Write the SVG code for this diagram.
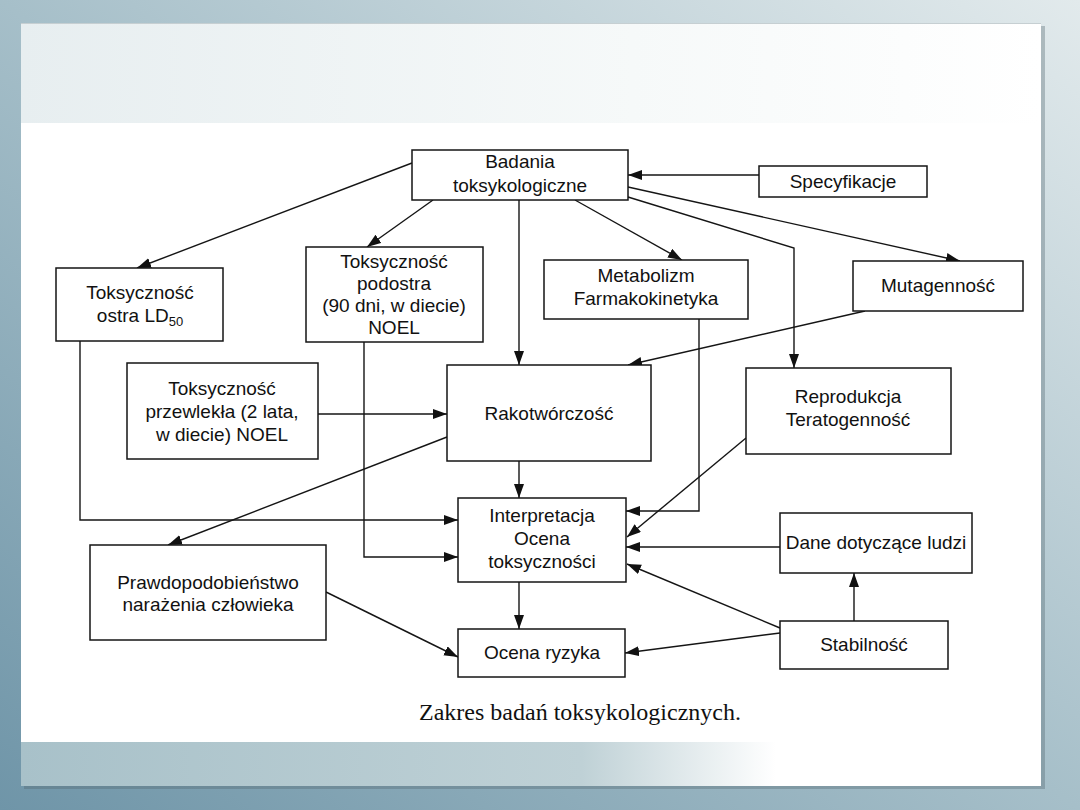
<svg xmlns="http://www.w3.org/2000/svg" width="1080" height="810" viewBox="0 0 1080 810">
<defs>
<linearGradient id="bg" x1="0" y1="1" x2="1" y2="0">
<stop offset="0" stop-color="#6f95a8"/>
<stop offset="0.5" stop-color="#a6bfc9"/>
<stop offset="1" stop-color="#e2eaec"/>
</linearGradient>
<linearGradient id="topband" x1="0" y1="0" x2="1" y2="0">
<stop offset="0" stop-color="#e7eef0"/>
<stop offset="0.6" stop-color="#f6f9f9"/>
<stop offset="1" stop-color="#ffffff"/>
</linearGradient>
<linearGradient id="botband" x1="0" y1="0" x2="1" y2="0">
<stop offset="0" stop-color="#a8c1c9"/>
<stop offset="0.55" stop-color="#bfd1d6"/>
<stop offset="0.74" stop-color="#ffffff"/>
<stop offset="1" stop-color="#ffffff"/>
</linearGradient>
<marker id="ah" markerUnits="userSpaceOnUse" markerWidth="15" markerHeight="11" refX="14" refY="5" orient="auto">
<path d="M0,0 L14,5 L0,10 z" fill="#111"/>
</marker>
<style>
.box{fill:#fff;stroke:#151515;stroke-width:1.5}
.t{font-family:"Liberation Sans",Arial,sans-serif;font-size:19px;fill:#111;text-anchor:middle}
.c{fill:none;stroke:#151515;stroke-width:1.4}
.a{marker-end:url(#ah)}
</style>
</defs>
<rect x="0" y="0" width="1080" height="810" fill="url(#bg)"/>
<rect x="24" y="26" width="1021" height="763" fill="#51646c" opacity="0.35"/>
<rect x="21" y="23" width="1020" height="100" fill="url(#topband)"/>
<line x1="21" y1="23.5" x2="1041" y2="23.5" stroke="#c6cfd2" stroke-width="1"/>
<rect x="21" y="123" width="1020" height="619" fill="#ffffff"/>
<rect x="21" y="742" width="1020" height="44" fill="url(#botband)"/>

<g id="connectors">
<path class="c a" d="M412,163 L137,268"/>
<path class="c a" d="M433,200 L367,247"/>
<path class="c a" d="M519,200 L519,365"/>
<path class="c a" d="M575,200 L682,260"/>
<path class="c a" d="M628,197 L794,248 L794,368"/>
<path class="c a" d="M628,187 L960,261"/>
<path class="c a" d="M759,175 L628,175"/>
<path class="c a" d="M865,311 L628,365"/>
<path class="c a" d="M80,341 L80,520 L458,520"/>
<path class="c a" d="M364,342 L364,557 L458,557"/>
<path class="c a" d="M318,414 L447,414"/>
<path class="c a" d="M447,437 L168,545"/>
<path class="c a" d="M519,461 L519,498"/>
<path class="c a" d="M699,319 L699,511 L626,511"/>
<path class="c a" d="M746,438 L627,537"/>
<path class="c a" d="M780,547 L626,547"/>
<path class="c a" d="M780,628 L627,564"/>
<path class="c a" d="M854,621 L854,573"/>
<path class="c a" d="M780,633 L625,653"/>
<path class="c a" d="M519,582 L519,629"/>
<path class="c a" d="M326,592 L458,657"/>
</g>

<g id="badania"><rect class="box" x="412" y="150" width="216" height="50"/><text class="t" x="520" y="168">Badania</text><text class="t" x="520" y="192">toksykologiczne</text></g>
<g id="specyfikacje"><rect class="box" x="759" y="166" width="168" height="31"/><text class="t" x="843" y="188">Specyfikacje</text></g>
<g id="ostra"><rect class="box" x="56" y="268" width="167" height="73"/><text class="t" x="140" y="299">Toksyczność</text><text class="t" x="140" y="322">ostra LD<tspan font-size="13" dy="4">50</tspan></text></g>
<g id="podostra"><rect class="box" x="306" y="247" width="177" height="95"/><text class="t" x="394" y="268">Toksyczność</text><text class="t" x="394" y="290">podostra</text><text class="t" x="394" y="312">(90 dni, w diecie)</text><text class="t" x="394" y="334">NOEL</text></g>
<g id="metabolizm"><rect class="box" x="544" y="260" width="204" height="59"/><text class="t" x="646" y="282">Metabolizm</text><text class="t" x="646" y="305">Farmakokinetyka</text></g>
<g id="mutagennosc"><rect class="box" x="853" y="261" width="170" height="50"/><text class="t" x="938" y="292">Mutagenność</text></g>
<g id="przewlekla"><rect class="box" x="127" y="363" width="191" height="96"/><text class="t" x="222" y="395">Toksyczność</text><text class="t" x="222" y="418">przewlekła (2 lata,</text><text class="t" x="222" y="441">w diecie) NOEL</text></g>
<g id="rakotworczosc"><rect class="box" x="447" y="365" width="204" height="96"/><text class="t" x="549" y="420">Rakotwórczość</text></g>
<g id="reprodukcja"><rect class="box" x="746" y="368" width="205" height="86"/><text class="t" x="848" y="403">Reprodukcja</text><text class="t" x="848" y="426">Teratogenność</text></g>
<g id="interpretacja"><rect class="box" x="458" y="498" width="168" height="84"/><text class="t" x="542" y="522">Interpretacja</text><text class="t" x="542" y="545">Ocena</text><text class="t" x="542" y="568">toksyczności</text></g>
<g id="dane"><rect class="box" x="780" y="513" width="192" height="60"/><text class="t" x="876" y="549">Dane dotyczące ludzi</text></g>
<g id="prawdopodobienstwo"><rect class="box" x="90" y="545" width="236" height="95"/><text class="t" x="208" y="589">Prawdopodobieństwo</text><text class="t" x="208" y="611">narażenia człowieka</text></g>
<g id="stabilnosc"><rect class="box" x="780" y="621" width="168" height="48"/><text class="t" x="864" y="651">Stabilność</text></g>
<g id="ocena-ryzyka"><rect class="box" x="458" y="629" width="167" height="48"/><text class="t" x="542" y="659">Ocena ryzyka</text></g>

<text x="580" y="720" font-family="'Liberation Serif','Times New Roman',serif" font-size="24" fill="#111" text-anchor="middle">Zakres badań toksykologicznych.</text>
</svg>
